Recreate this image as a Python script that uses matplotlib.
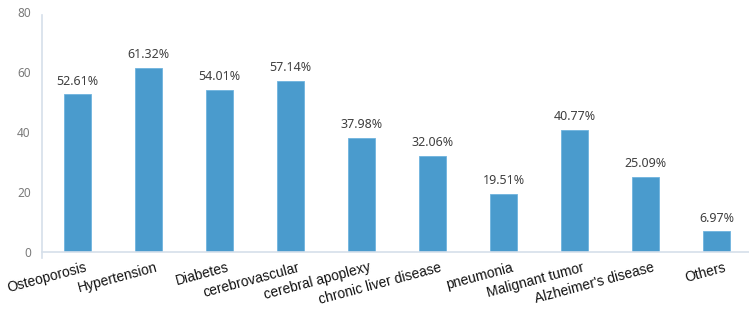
import matplotlib
matplotlib.use("Agg")
import matplotlib.pyplot as plt
import numpy as np

categories = ["Osteoporosis", "Hypertension", "Diabetes", "cerebrovascular",
              "cerebral apoplexy", "chronic liver disease", "pneumonia",
              "Malignant tumor", "Alzheimer's disease", "Others"]
values = [52.61, 61.32, 54.01, 57.14, 37.98, 32.06, 19.51, 40.77, 25.09, 6.97]
yticks = [0, 20, 40, 60, 80]

fig = plt.figure(figsize=(7.49, 3.24), dpi=100)
ax = fig.add_axes([0.056, 0.222, 0.948, 0.741])
x = np.arange(len(categories))
ax.bar(x, values, width=0.37, color="#4a9bcd", edgecolor="#6fb3de", linewidth=0.6, zorder=2)
for xi, v in zip(x, values):
    ax.text(xi, v + 2.2, f"{v:.2f}%", ha="center", va="bottom", fontsize=9,
            family="Noto Sans", color="#3f3f3f")

ax.set_xlim(-0.5, len(categories) - 0.5)
ax.set_ylim(0, 80)
ax.set_yticks(yticks)
ax.set_yticklabels([str(t) for t in yticks], fontsize=8.5, family="Noto Sans", color="#7a7a7a")
ax.tick_params(axis="y", length=0, pad=8)
ax.set_xticks(x + 0.1)
ax.set_xticklabels(categories, rotation=15, ha="right", rotation_mode="anchor",
                   fontsize=10, family="Liberation Sans", color="#111111")
ax.tick_params(axis="x", length=0, pad=6)
for s in ["top", "right"]:
    ax.spines[s].set_visible(False)
ax.spines["left"].set_color("#d5dfea")
ax.spines["bottom"].set_color("#d5dfea")
ax.spines["left"].set_linewidth(1.2)
ax.spines["bottom"].set_linewidth(1.2)
ax.spines["left"].set_bounds(-2, 79)
ax.patch.set_alpha(0)
fig.savefig("out.png", dpi=100)
